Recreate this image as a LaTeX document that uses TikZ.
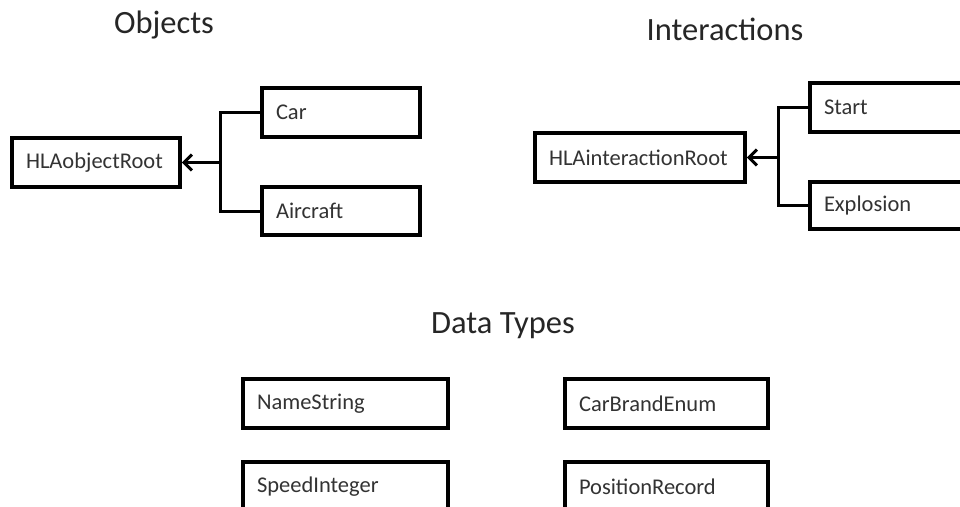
\documentclass[tikz,border=0pt]{standalone}
\usepackage{fontspec}
\setmainfont{Carlito}
\usepackage{xcolor}
\usetikzlibrary{positioning, arrows.meta}
\tikzset{>={Straight Barb[length=8pt, width=16pt]},
         class/.style={draw=black, line width=3.6pt, rectangle, anchor=north west,
                       inner xsep=14pt, inner ysep=0pt, outer sep=0pt, align=left,
                       text=black!80, font=\fontsize{22.5}{26}\selectfont},
         heading/.style={anchor=base, text=black!85, font=\fontsize{32.5}{38}\selectfont},
         link/.style={line width=3pt, black},
         }

\begin{document}
\begin{tikzpicture}[x=1pt, y=-1pt]
    \useasboundingbox[fill=white] (0,0) rectangle (960,506);

    % headings
    \node[heading] (objtitle) at (164,33) {Objects};
    \node[heading] (inttitle) at (725,40) {Interactions};
    \node[heading] (dttitle) at (503,333) {Data Types};

    % object classes
    \node[class, text width=140pt, minimum height=49pt] (objroot) at (12,138) {HLAobjectRoot};
    \node[class, text width=130pt, minimum height=49pt] (car) at (262,88) {Car};
    \node[class, text width=130pt, minimum height=48pt] (aircraft) at (262,187) {Aircraft};

    % interaction classes
    \node[class, text width=182pt, minimum height=49pt] (introot) at (535,133) {HLAinteractionRoot};
    \node[class, text width=172pt, minimum height=49pt] (start) at (810,83) {Start};
    \node[class, text width=172pt, minimum height=47pt] (explosion) at (810,182) {Explosion};

    % data types
    \node[class, text width=177pt, minimum height=49pt] (namestr) at (243,379) {NameString};
    \node[class, text width=175pt, minimum height=49pt] (carbrand) at (565,379) {CarBrandEnum};
    \node[class, text width=177pt, minimum height=49pt] (speedint) at (243,462) {SpeedInteger};
    \node[class, text width=175pt, minimum height=49pt] (posrec) at (565,462) {PositionRecord};

    \coordinate[right=40pt of objroot.east] (objj);
    \coordinate[right=33pt of introot.east] (intj);

    \draw[link] (car.west) -| (objj) |- (aircraft.west);
    \draw[link, ->] (objj) -- ([xshift=1.8pt]objroot.east);
    \draw[link] (start.west) -| (intj) |- (explosion.west);
    \draw[link, ->] (intj) -- ([xshift=1.8pt]introot.east);
\end{tikzpicture}
\end{document}
